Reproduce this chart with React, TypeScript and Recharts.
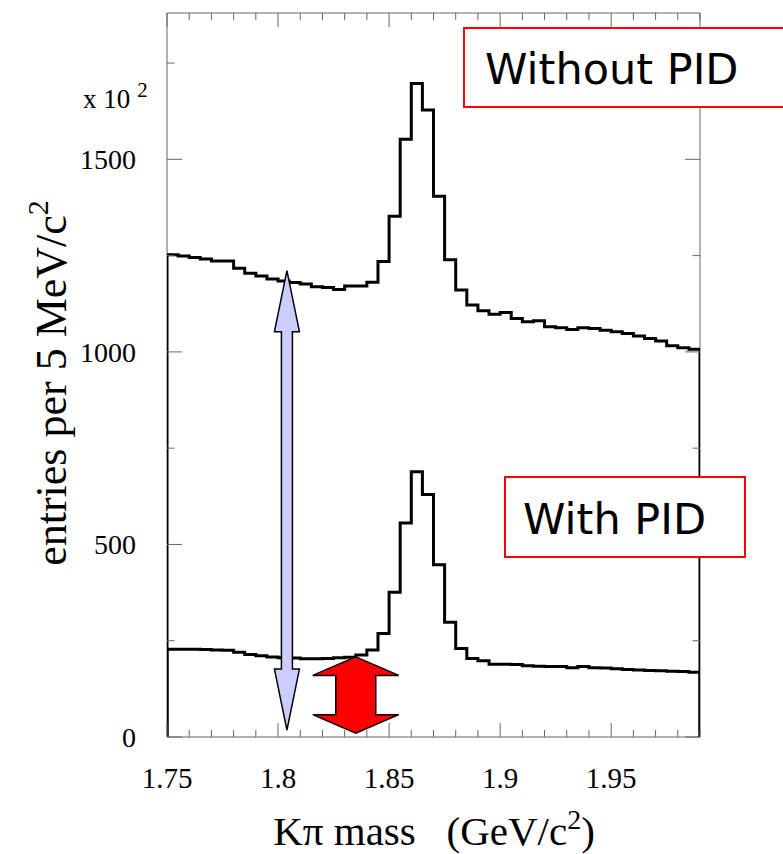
import React from 'react';
import { ComposedChart, Line, XAxis, YAxis, ReferenceArea, ReferenceLine } from 'recharts';

// ---- data ----
const X_MIN = 1.75;
const X_MAX = 1.99;
const BIN_WIDTH = 0.005;
const Y_MAX = 1880;

// entries per 5 MeV/c^2 (x 10^2), 48 bins from 1.75 to 1.99
const withoutPID = [
  1252, 1249, 1245, 1241, 1236, 1236, 1217, 1204, 1197, 1189, 1184, 1180,
  1176, 1169, 1167, 1162, 1171, 1171, 1181, 1235, 1352, 1552, 1697, 1628,
  1404, 1239, 1161, 1122, 1107, 1098, 1102, 1087, 1078, 1081, 1065, 1063,
  1058, 1063, 1061, 1056, 1052, 1048, 1041, 1035, 1028, 1016, 1011, 1007,
];
const withPID = [
  228, 228, 228, 227, 226, 225, 220, 214, 211, 208, 206, 205,
  203, 203, 204, 206, 207, 213, 226, 269, 376, 556, 689, 630,
  447, 298, 230, 204, 198, 189, 189, 188, 185, 184, 183, 183,
  180, 183, 180, 179, 177, 175, 174, 173, 172, 171, 170, 168,
];

const X_MAJOR_TICKS = [1.75, 1.8, 1.85, 1.9, 1.95];
const X_TICK_LABELS = ['1.75', '1.8', '1.85', '1.9', '1.95'];
const Y_TICKS = [0, 250, 500, 750, 1000, 1250, 1500, 1750];
const Y_LABELLED = [0, 500, 1000, 1500];
const Y_TICK_LABELS = ['0', '500', '1000', '1500'];

// annotations (data coordinates)
const BLUE_ARROW = { x: 1.804, from: 18, to: 1211 };
const RED_ARROW = { x: 1.835, from: 10, to: 208 };

// ---- layout ----
const W = 783;
const H = 854;
const PLOT_LEFT = 167;
const PLOT_TOP = 13;
const PLOT_RIGHT = 700;
const PLOT_BOTTOM = 737;
const PLOT_W = PLOT_RIGHT - PLOT_LEFT;
const PLOT_H = PLOT_BOTTOM - PLOT_TOP;
const FRAME = '#666666';
const SERIF = '"Liberation Serif", "Times New Roman", serif';
const SANS = '"DejaVu Sans", Verdana, sans-serif';

const minorX = Array.from({ length: 25 }, (_, i) => +(X_MIN + i * 0.01).toFixed(2));

const rows: { x: number; up: number; low: number }[] = [];
rows.push({ x: X_MIN, up: 0, low: 0 });
withoutPID.forEach((v, i) => {
  rows.push({ x: +(X_MIN + i * BIN_WIDTH).toFixed(3), up: v, low: withPID[i] });
});
rows.push({ x: X_MAX, up: withoutPID[withoutPID.length - 1], low: withPID[withPID.length - 1] });
rows.push({ x: X_MAX, up: 0, low: 0 });

const XTick = (props: any) => {
  const { x, y, payload } = props;
  const v = payload.value;
  const idx = X_MAJOR_TICKS.findIndex((m) => Math.abs(m - v) < 1e-6);
  const major = idx >= 0;
  const len = major ? 14 : 7;
  const top = y - PLOT_H;
  return (
    <g>
      <line x1={x} y1={y} x2={x} y2={y - len} stroke={FRAME} strokeWidth={1} />
      <line x1={x} y1={top} x2={x} y2={top + len} stroke={FRAME} strokeWidth={1} />
      {major && (
        <text x={x} y={y + 51} textAnchor="middle" fontFamily={SERIF} fontSize={29} fill="#000">
          {X_TICK_LABELS[idx]}
        </text>
      )}
    </g>
  );
};

const YTick = (props: any) => {
  const { x, y, payload } = props;
  const v = payload.value;
  const idx = Y_LABELLED.indexOf(v);
  const major = idx >= 0;
  const len = major ? 15 : 7.5;
  const right = x + PLOT_W;
  return (
    <g>
      <line x1={x} y1={y} x2={x + len} y2={y} stroke={FRAME} strokeWidth={1} />
      <line x1={right} y1={y} x2={right - len} y2={y} stroke={FRAME} strokeWidth={1} />
      {major && (
        <text x={x - 31} y={y + 10} textAnchor="end" fontFamily={SERIF} fontSize={28} fill="#000">
          {Y_TICK_LABELS[idx]}
        </text>
      )}
    </g>
  );
};

const makeArrow = (o: { headLen: number; headHalf: number; shaftHalf: number; fill: string }) => (props: any) => {
  const { x1, y1, x2, y2 } = props;
  const cx = (x1 + x2) / 2;
  const top = Math.min(y1, y2);
  const bot = Math.max(y1, y2);
  const { headLen, headHalf, shaftHalf, fill } = o;
  const pts = [
    [cx, top],
    [cx + headHalf, top + headLen],
    [cx + shaftHalf, top + headLen],
    [cx + shaftHalf, bot - headLen],
    [cx + headHalf, bot - headLen],
    [cx, bot],
    [cx - headHalf, bot - headLen],
    [cx - shaftHalf, bot - headLen],
    [cx - shaftHalf, top + headLen],
    [cx - headHalf, top + headLen],
  ]
    .map((p) => p.join(','))
    .join(' ');
  return <polygon points={pts} fill={fill} stroke="#000" strokeWidth={1.5} />;
};

const YTitle = () => (
  <text
    x={66}
    y={383}
    transform="rotate(-90 66 383)"
    textAnchor="middle"
    fontFamily={SERIF}
    fontSize={44}
    fill="#000"
  >
    entries per 5 MeV/c<tspan dy={-18} fontSize={30}>2</tspan>
  </text>
);

const XTitle = () => (
  <text x={434} y={845} textAnchor="middle" fontFamily={SERIF} fontSize={41} fill="#000" style={{ whiteSpace: 'pre' }}>
    {'K\u03c0 mass   (GeV/c'}
    <tspan dy={-16} fontSize={28}>2</tspan>
    <tspan dy={16}>)</tspan>
  </text>
);

export default function App() {
  return (
    <div style={{ position: 'absolute', left: 0, top: 0, width: W, height: H, overflow: 'hidden', background: '#fff' }}>
      <ComposedChart
        width={W}
        height={H}
        data={rows}
        margin={{ top: PLOT_TOP, right: W - PLOT_RIGHT, left: 0, bottom: 0 }}
      >
        <XAxis
          type="number"
          dataKey="x"
          domain={[X_MIN, X_MAX]}
          ticks={minorX}
          interval={0}
          allowDataOverflow
          height={H - PLOT_BOTTOM}
          tickSize={0}
          tickMargin={0}
          axisLine={false}
          tickLine={false}
          tick={<XTick />}
          label={<XTitle />}
        />
        <YAxis
          type="number"
          domain={[0, Y_MAX]}
          ticks={Y_TICKS}
          interval={0}
          allowDataOverflow
          width={PLOT_LEFT}
          tickSize={0}
          tickMargin={0}
          axisLine={false}
          tickLine={false}
          tick={<YTick />}
          label={<YTitle />}
        />
        <ReferenceArea x1={X_MIN} x2={X_MAX} y1={0} y2={Y_MAX} fill="none" stroke={FRAME} strokeWidth={1} />
        <Line type="stepAfter" dataKey="up" stroke="#000" strokeWidth={3} dot={false} activeDot={false} isAnimationActive={false} />
        <Line type="stepAfter" dataKey="low" stroke="#000" strokeWidth={3} dot={false} activeDot={false} isAnimationActive={false} />
        <ReferenceLine
          segment={[{ x: BLUE_ARROW.x, y: BLUE_ARROW.from }, { x: BLUE_ARROW.x, y: BLUE_ARROW.to }]}
          shape={makeArrow({ headLen: 61, headHalf: 12.5, shaftHalf: 5.5, fill: '#ccccff' })}
        />
        <ReferenceLine
          segment={[{ x: RED_ARROW.x, y: RED_ARROW.from }, { x: RED_ARROW.x, y: RED_ARROW.to }]}
          shape={makeArrow({ headLen: 18.5, headHalf: 43, shaftHalf: 20, fill: '#ff0000' })}
        />
      </ComposedChart>
      <svg width={W} height={H} style={{ position: 'absolute', left: 0, top: 0, pointerEvents: 'none' }}>
        <text x={83} y={108} fontFamily={SERIF} fontSize={27} fill="#000">
          x 10<tspan dx={7} dy={-11} fontSize={21}>2</tspan>
        </text>
        <rect x={464} y={28} width={340} height={79} fill="#fff" stroke="#ff0000" strokeWidth={2} />
        <text x={485} y={84} fontFamily={SANS} fontSize={43} fill="#000">Without PID</text>
        <rect x={505} y={477} width={240} height={80} fill="#fff" stroke="#ff0000" strokeWidth={2} />
        <text x={523} y={534} fontFamily={SANS} fontSize={43} fill="#000">With PID</text>
      </svg>
    </div>
  );
}
